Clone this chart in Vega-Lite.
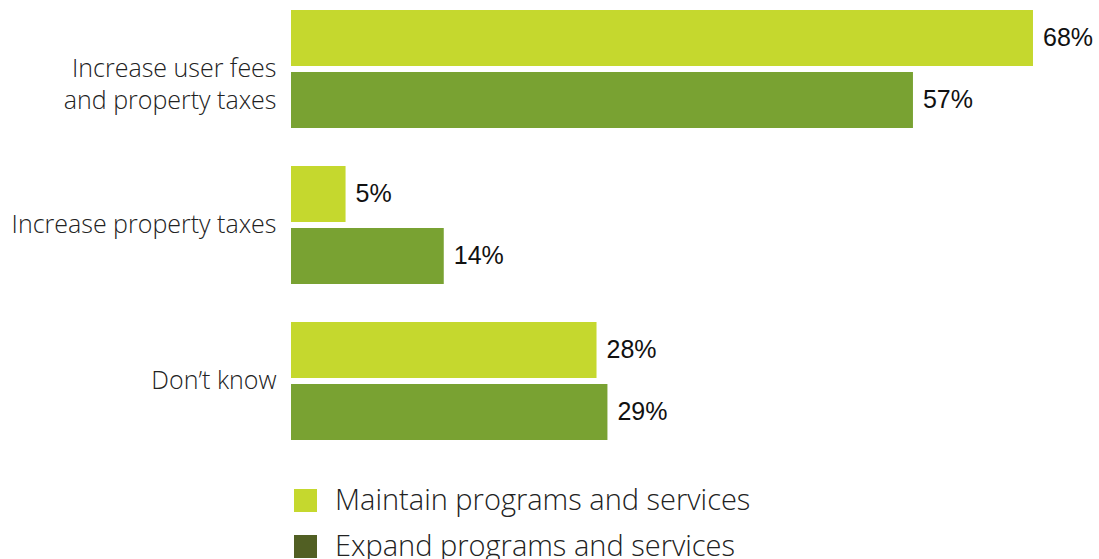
{
  "$schema": "https://vega.github.io/schema/vega-lite/v6.json",
  "width": 808,
  "height": 430,
  "autosize": {"type": "none"},
  "padding": {"left": 291, "top": 10, "right": 0, "bottom": 119},
  "background": "white",
  "config": {"view": {"stroke": null}, "font": "Open Sans"},
  "data": {
    "values": [
      {"answer": "Increase user fees|and property taxes", "series": "Maintain programs and services", "value": 0.68},
      {"answer": "Increase user fees|and property taxes", "series": "Expand programs and services", "value": 0.57},
      {"answer": "Increase property taxes", "series": "Maintain programs and services", "value": 0.05},
      {"answer": "Increase property taxes", "series": "Expand programs and services", "value": 0.14},
      {"answer": "Don’t know", "series": "Maintain programs and services", "value": 0.28},
      {"answer": "Don’t know", "series": "Expand programs and services", "value": 0.29}
    ]
  },
  "encoding": {
    "y": {
      "field": "answer",
      "type": "nominal",
      "sort": null,
      "scale": {"paddingInner": 0.2436, "paddingOuter": 0},
      "axis": {
        "title": null,
        "domain": false,
        "ticks": false,
        "labelPadding": 15,
        "labelLimit": 300,
        "labelFontSize": 25,
        "labelFont": "Open Sans",
        "labelFontWeight": 300,
        "labelColor": "#222222",
        "labelLineHeight": 32,
        "labelExpr": "split(datum.label, '|')"
      }
    },
    "yOffset": {
      "field": "series",
      "type": "nominal",
      "sort": ["Maintain programs and services", "Expand programs and services"],
      "scale": {"paddingInner": 0.0968, "paddingOuter": 0}
    },
    "x": {
      "field": "value",
      "type": "quantitative",
      "scale": {"domain": [0, 0.7405], "nice": false},
      "axis": null
    }
  },
  "layer": [
    {
      "mark": {"type": "bar", "opacity": 0},
      "encoding": {
        "color": {
          "field": "series",
          "type": "nominal",
          "scale": {"domain": ["Maintain programs and services", "Expand programs and services"], "range": ["#c5d82e", "#515f23"]},
          "legend": {
            "title": null,
            "orient": "none",
            "legendX": 0,
            "legendY": 476,
            "direction": "vertical",
            "symbolType": "square",
            "symbolSize": 529,
            "symbolStrokeWidth": 0,
            "symbolOpacity": 1,
            "labelFontSize": 29,
            "labelFont": "Open Sans",
            "labelFontWeight": 300,
            "labelColor": "#222222",
            "labelOffset": 15,
            "labelLimit": 700,
            "rowPadding": 16,
            "encode": {"symbols": {"update": {"opacity": {"value": 1}}}}
          }
        }
      }
    },
    {
      "mark": {"type": "bar"},
      "encoding": {
        "fill": {
          "field": "series",
          "type": "nominal",
          "scale": {"domain": ["Maintain programs and services", "Expand programs and services"], "range": ["#c5d82e", "#79a232"]},
          "legend": null
        }
      }
    },
    {
      "mark": {"type": "text", "align": "left", "baseline": "middle", "dx": 10, "fontSize": 25, "font": "Liberation Sans", "color": "#111111"},
      "encoding": {
        "text": {"field": "value", "type": "quantitative", "format": ".0%"},
        "detail": {"field": "series"}
      }
    }
  ]
}
